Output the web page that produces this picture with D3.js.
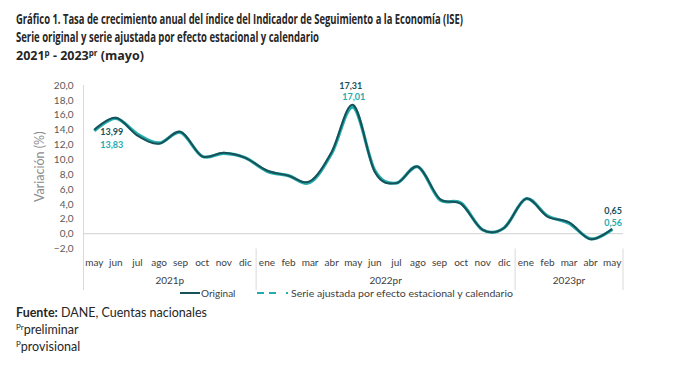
<!DOCTYPE html>
<html><head><meta charset="utf-8">
<script src="https://cdn.jsdelivr.net/npm/d3@7"></script>
<style>body{margin:0;background:#fff;} svg{display:block;font-family:Lato,"Open Sans",sans-serif;}</style>
</head><body>
<svg id="c" width="700" height="366"></svg>
<script>
const months = ["may","jun","jul","ago","sep","oct","nov","dic",
  "ene","feb","mar","abr","may","jun","jul","ago","sep","oct","nov","dic",
  "ene","feb","mar","abr","may"];
const years = [{label:"2021p", n:8},{label:"2022pr", n:12},{label:"2023pr", n:5}];
const original = [13.99,15.6,13.2,12.1,13.7,10.4,10.9,10.2,8.5,7.8,7.05,11.0,17.31,8.3,6.8,9.0,4.7,4.0,0.5,0.8,4.7,2.3,1.5,-0.76,0.65];
const ajustada = [13.83,15.5,13.4,12.2,13.6,10.4,10.8,10.2,8.4,7.8,6.9,10.8,17.01,8.5,6.8,9.0,4.6,4.1,0.5,0.8,4.7,2.4,1.4,-0.7,0.56];
const yTicks = [-2,0,2,4,6,8,10,12,14,16,18,20];
const labels = [
  {i:0, o:"13,99", a:"13,83"},
  {i:12, o:"17,31", a:"17,01"},
  {i:24, o:"0,65", a:"0,56"}
];

const svg = d3.select("#c");
const L = 83.5, R = 623, T = 85, B = 248.5;
const x = d3.scaleBand().domain(d3.range(months.length)).range([L,R]);
const y = d3.scaleLinear().domain([-2,20]).range([B,T]);
const fmt = v => d3.format(".1f")(v).replace(".",",");
const dark = "#17525a", teal = "#25abab";
const txt = "#404040";

// title
const title = [
  {t:"Gráfico 1. Tasa de crecimiento anual del índice del Indicador de Seguimiento a la Economía (ISE)", y:24, w:447},
  {t:"Serie original y serie ajustada por efecto estacional y calendario", y:42, w:303}
];
title.forEach(d=>{
  svg.append("text").attr("x",16).attr("y",d.y).attr("font-size",13.5).attr("font-weight","bold")
    .attr("font-family","'Open Sans',sans-serif")
    .attr("fill","#262626").attr("textLength",d.w).attr("lengthAdjust","spacingAndGlyphs").text(d.t);
});
const t3 = svg.append("text").attr("x",16).attr("y",60).attr("font-size",12.5).attr("font-weight","bold")
  .attr("font-family","'Open Sans',sans-serif").attr("fill","#262626");
t3.append("tspan").text("2021");
t3.append("tspan").attr("font-size",8).attr("dy",-4.5).text("p");
t3.append("tspan").attr("dy",4.5).text(" - 2023");
t3.append("tspan").attr("font-size",8).attr("dy",-4.5).text("pr");
t3.append("tspan").attr("dy",4.5).text(" (mayo)");

// y axis
const yAxis = svg.append("g").attr("transform",`translate(${L},0)`)
  .call(d3.axisLeft(y).tickValues(yTicks).tickFormat(fmt).tickSize(0).tickPadding(10));
yAxis.select(".domain").remove();
yAxis.selectAll("text").attr("font-size",10).attr("fill","#595959").attr("font-family","Lato,sans-serif");
svg.append("line").attr("x1",L).attr("x2",L).attr("y1",T).attr("y2",290).attr("stroke","#d9d9d9");
svg.append("line").attr("x1",L).attr("x2",R).attr("y1",y(0)).attr("y2",y(0)).attr("stroke","#d9d9d9").attr("stroke-width",1.2);

svg.append("text").attr("transform",`translate(44,${(T+B)/2}) rotate(-90)`).attr("text-anchor","middle")
  .attr("font-size",12.5).attr("fill","#8c8c8c").text("Variación (%)");

// x axis category labels
const xAxis = svg.append("g").attr("transform",`translate(0,${B})`)
  .call(d3.axisBottom(x).tickFormat(i=>months[i]).tickSize(0).tickPadding(10));
xAxis.select(".domain").remove();
xAxis.selectAll("text").attr("font-size",10).attr("fill",txt).attr("font-family","Lato,sans-serif");

// year groups
let start = 0;
years.forEach(g=>{
  const x0 = x(start), x1 = x(start+g.n-1)+x.bandwidth();
  svg.append("text").attr("x",(x0+x1)/2).attr("y",284).attr("text-anchor","middle")
    .attr("font-size",10).attr("fill",txt).text(g.label);
  svg.append("line").attr("x1",x1).attr("x2",x1).attr("y1",B).attr("y2",290).attr("stroke","#d9d9d9");
  start += g.n;
});

// lines
const line = d3.line().x((d,i)=>x(i)+x.bandwidth()/2).y(d=>y(d)).curve(d3.curveCatmullRom.alpha(0));
svg.append("path").datum(ajustada).attr("d",line).attr("fill","none").attr("stroke",teal).attr("stroke-width",3.2);
svg.append("path").datum(original).attr("d",line).attr("fill","none").attr("stroke",dark).attr("stroke-width",2);

// data labels
const lp = [
  {dx:6, oy:135, ay:148, anchor:"start"},
  {dx:-14, oy:89, ay:100, anchor:"start"},
  {dx:-8, oy:214, ay:226, anchor:"start"}
];
labels.forEach((d,k)=>{
  const cx = x(d.i)+x.bandwidth()/2 + lp[k].dx;
  svg.append("text").attr("x",cx).attr("y",lp[k].oy).attr("text-anchor",lp[k].anchor)
    .attr("font-size",9).attr("font-weight","bold").attr("fill",dark).text(d.o);
  svg.append("text").attr("x",cx + (k==1?3:0)).attr("y",lp[k].ay).attr("text-anchor",lp[k].anchor)
    .attr("font-size",9).attr("font-weight","bold").attr("fill",teal).text(d.a);
});

// legend
svg.append("line").attr("x1",180).attr("x2",200).attr("y1",293).attr("y2",293).attr("stroke",dark).attr("stroke-width",2);
svg.append("text").attr("x",201).attr("y",296.5).attr("font-size",10).attr("fill",txt).text("Original");
svg.append("line").attr("x1",257).attr("x2",288).attr("y1",293).attr("y2",293).attr("stroke",teal).attr("stroke-width",2)
  .attr("stroke-dasharray","7,5,7,10,2");
svg.append("text").attr("x",291).attr("y",296.5).attr("font-size",10).attr("fill",txt)
  .attr("textLength",222).attr("lengthAdjust","spacingAndGlyphs").text("Serie ajustada por efecto estacional y calendario");

// footnotes
const f1 = svg.append("text").attr("x",16).attr("y",317).attr("font-size",12.5).attr("fill","#262626");
f1.append("tspan").attr("font-weight","bold").text("Fuente:");
f1.append("tspan").text(" DANE, Cuentas nacionales");
const f2 = svg.append("text").attr("x",16).attr("y",334).attr("font-size",12.5).attr("fill","#262626");
f2.append("tspan").attr("font-size",8).attr("dy",-4.5).text("Pr");
f2.append("tspan").attr("dy",4.5).text("preliminar");
const f3 = svg.append("text").attr("x",16).attr("y",351).attr("font-size",12.5).attr("fill","#262626");
f3.append("tspan").attr("font-size",8).attr("dy",-4.5).text("P");
f3.append("tspan").attr("dy",4.5).text("provisional");
</script>
</body></html>
